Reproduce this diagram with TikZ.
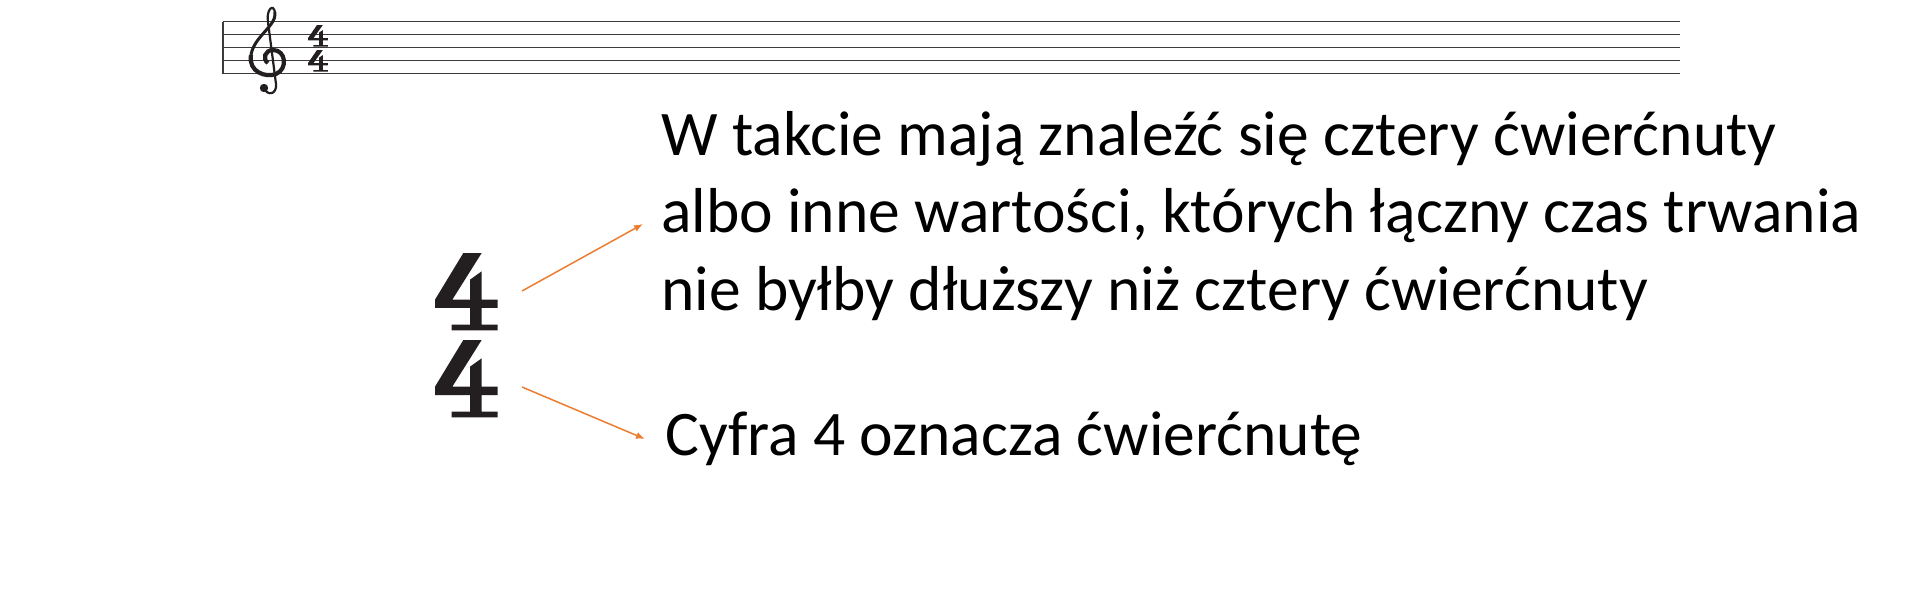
\documentclass[tikz,border=0pt]{standalone}
\usepackage{fontspec}
\setmainfont{Carlito}
\usetikzlibrary{arrows.meta}
\definecolor{arrowor}{RGB}{237,125,49}
\definecolor{staffgray}{RGB}{60,60,60}
\definecolor{glyphblack}{RGB}{35,31,32}
\tikzset{
  staffline/.style={draw=staffgray, line width=1.6pt},
  pointer/.style={draw=arrowor, line width=1.5pt, -{Latex[length=9pt,width=7pt]}},
  bigtext/.style={anchor=base west, inner sep=0pt, font=\fontsize{63.5}{77.5}\selectfont},
  fourg/.pic={
    \fill[glyphblack] (85,0) -- (140,0) -- (52,140) -- (105,140) -- (105,80) -- (140,55)
      -- (140,140) -- (188,140) -- (188,165) -- (140,165) -- (140,215) -- (188,215)
      -- (188,232) -- (50,232) -- (50,215) -- (105,215) -- (105,165) -- (0,165) -- (0,140) -- cycle;
  }
}
\begin{document}
\begin{tikzpicture}[x=1pt,y=-1pt]
\useasboundingbox[fill=white] (0,0) rectangle (1920,600);
% staff
\foreach \i in {0,...,4}{
  \draw[staffline] (223,{21.5+13*\i}) -- (1680,{21.5+13*\i});
}
\draw[staffline] (223,21.5) -- (223,73.5);
% treble clef
\draw[glyphblack, line width=2.2pt] (264,88) .. controls (267,96) and (277,95) .. (276,84)
  -- (268,22) .. controls (266,10) and (273,3) .. (275,12);
\draw[glyphblack, line width=3pt] (275,12)
  .. controls (277,26) and (254,36) .. (251,55);
\draw[glyphblack, line width=4.2pt] (251,55) .. controls (248,72) and (266,78) .. (276,74)
  .. controls (288,69) and (286,50) .. (273,50) .. controls (265,50) and (262,59) .. (268,63);
\fill[glyphblack] (264,88) circle (4.2);
% small time signature
\pic[xscale=0.106, yscale=0.0935] at (308,25) {fourg};
\pic[xscale=0.106, yscale=0.0935] at (308,50) {fourg};
% big time signature
\pic[scale=0.3333] at (435,253) {fourg};
\pic[scale=0.3333] at (435,340) {fourg};
% texts
\node[bigtext] (t1) at (661,155) {W takcie mają znaleźć się cztery ćwierćnuty};
\node[bigtext] (t2) at (661,232.5) {albo inne wartości, których łączny czas trwania};
\node[bigtext] (t3) at (661,310) {nie byłby dłuższy niż cztery ćwierćnuty};
\node[bigtext] (t4) at (665,455) {Cyfra 4 oznacza ćwierćnutę};
% arrows
\coordinate (a1s) at (522,291);
\coordinate (a1e) at (643,224);
\coordinate (a2s) at (522,387);
\coordinate (a2e) at (645,439);
\draw[pointer] (a1s) -- (a1e);
\draw[pointer] (a2s) -- (a2e);
\end{tikzpicture}
\end{document}
